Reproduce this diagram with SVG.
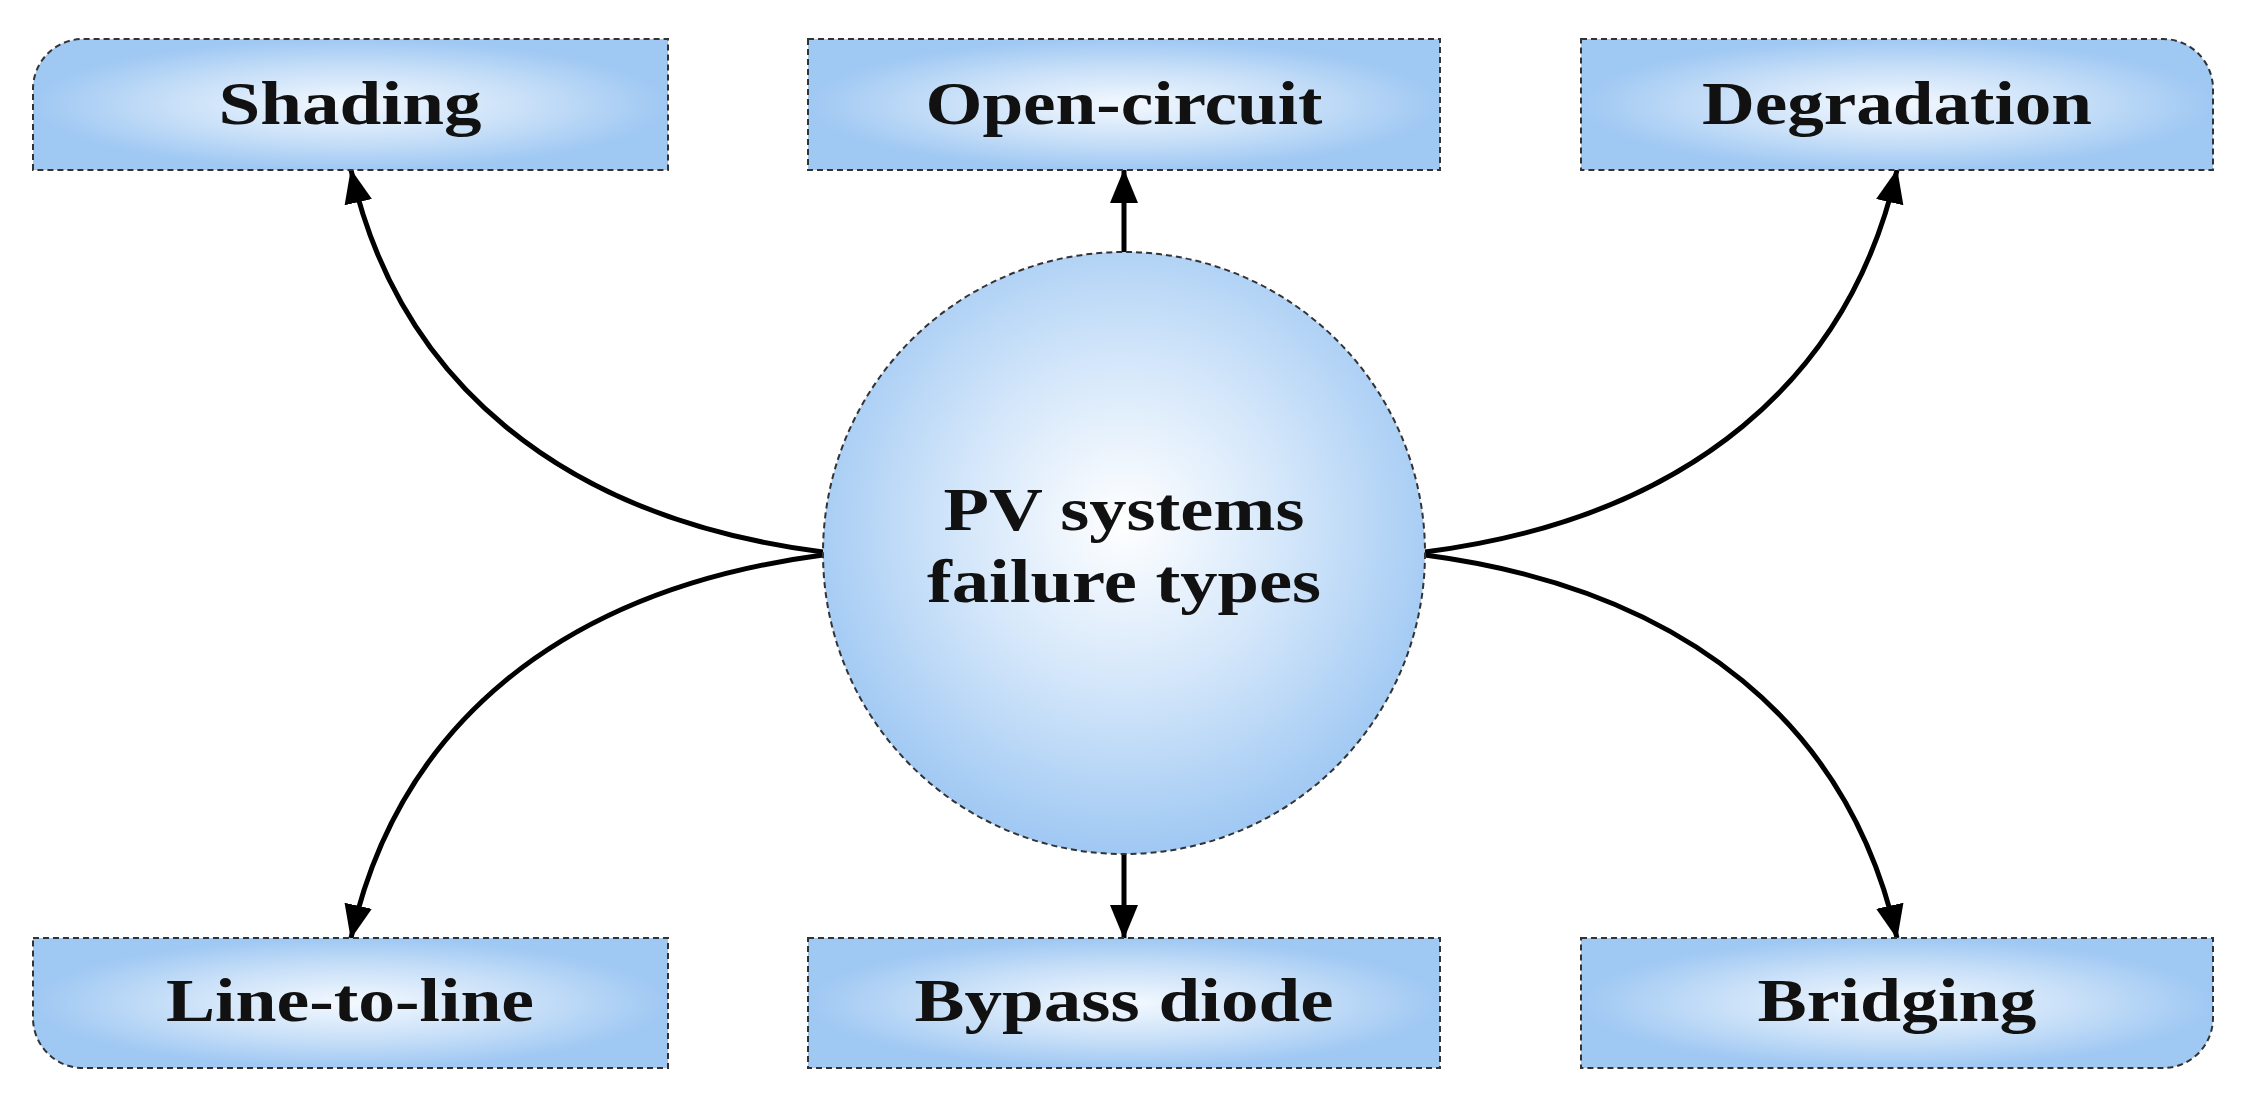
<svg xmlns="http://www.w3.org/2000/svg" width="2252" height="1108" viewBox="0 0 2252 1108">
<defs>
<radialGradient id="gb" cx="0.5" cy="0.5" r="0.5"><stop offset="0" stop-color="#f4f9ff"/><stop offset="0.55" stop-color="#c9e0f8"/><stop offset="1" stop-color="#9fc8f3"/></radialGradient>
<radialGradient id="gc" cx="0.5" cy="0.45" r="0.55"><stop offset="0" stop-color="#ffffff"/><stop offset="0.5" stop-color="#d3e6fa"/><stop offset="1" stop-color="#9fc8f3"/></radialGradient>
<marker id="ah" markerUnits="userSpaceOnUse" markerWidth="34" markerHeight="28" refX="33" refY="14" orient="auto"><path d="M0,0 L34,14 L0,28 Z" fill="#000"/></marker>
</defs>
<style>
.nd{fill:url(#gb);stroke:#333;stroke-width:2;stroke-dasharray:6 4}
.t{font-family:"Liberation Serif",serif;font-weight:bold;font-size:62px;fill:#111;text-anchor:middle}
.c{fill:none;stroke:#000;stroke-width:5;marker-end:url(#ah)}
</style>
<rect width="2252" height="1108" fill="#fff"/>
<g id="connectors">
<path class="c" d="M823,552 C558,518 398,378 351,170"/>
<path class="c" d="M823,555 C558,590 398,728 351,938"/>
<path class="c" d="M1425,552 C1690,518 1850,378 1897,170"/>
<path class="c" d="M1425,555 C1690,590 1850,728 1897,938"/>
<path class="c" d="M1124,254 V170"/>
<path class="c" d="M1124,852 V938"/>
</g>
<g id="center"><circle class="nd" style="fill:url(#gc)" cx="1124" cy="553" r="301"/>
<text class="t" x="1124" y="530" textLength="361" lengthAdjust="spacingAndGlyphs">PV systems</text>
<text class="t" x="1124" y="602" textLength="394" lengthAdjust="spacingAndGlyphs">failure types</text></g>
<g id="shading"><path class="nd" d="M33,170 V89 A50,50 0 0 1 83,39 H668 V170 Z"/><text class="t" x="350" y="124" textLength="263" lengthAdjust="spacingAndGlyphs">Shading</text></g>
<g id="open"><rect class="nd" x="808" y="39" width="632" height="131"/><text class="t" x="1124" y="124" textLength="397" lengthAdjust="spacingAndGlyphs">Open-circuit</text></g>
<g id="degradation"><path class="nd" d="M1581,39 H2163 A50,50 0 0 1 2213,89 V170 H1581 Z"/><text class="t" x="1897" y="124" textLength="390" lengthAdjust="spacingAndGlyphs">Degradation</text></g>
<g id="line"><path class="nd" d="M33,938 H668 V1068 H83 A50,50 0 0 1 33,1018 Z"/><text class="t" x="350" y="1021" textLength="368" lengthAdjust="spacingAndGlyphs">Line-to-line</text></g>
<g id="bypass"><rect class="nd" x="808" y="938" width="632" height="130"/><text class="t" x="1124" y="1021" textLength="419" lengthAdjust="spacingAndGlyphs">Bypass diode</text></g>
<g id="bridging"><path class="nd" d="M1581,938 H2213 V1018 A50,50 0 0 1 2163,1068 H1581 Z"/><text class="t" x="1897" y="1021" textLength="279" lengthAdjust="spacingAndGlyphs">Bridging</text></g>
</svg>
